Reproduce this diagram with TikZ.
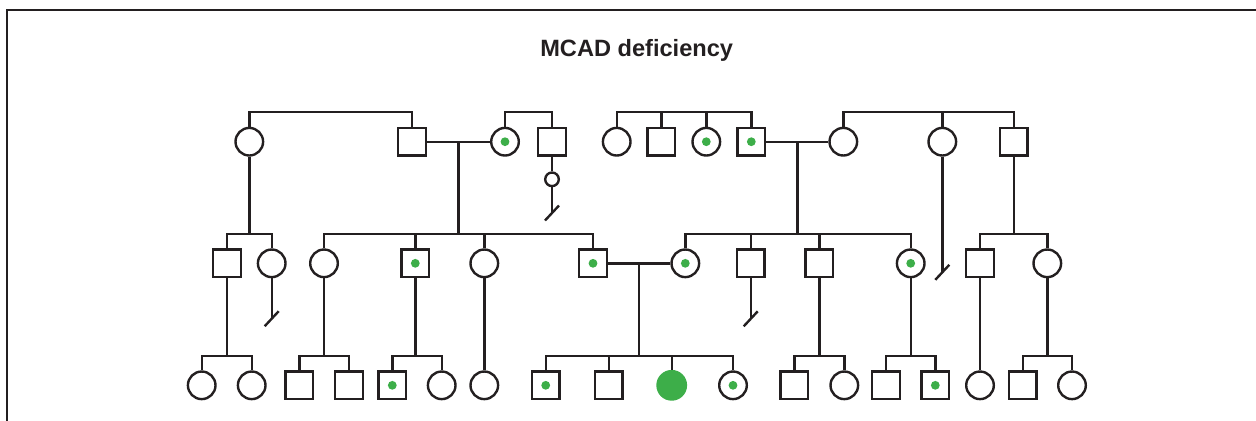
\documentclass[tikz,border=0pt]{standalone}
\usepackage{fontspec}
\setmainfont{Liberation Sans}
\usepackage{xcolor}
\usepackage{tikz}
\usetikzlibrary{calc}
\definecolor{ink}{HTML}{231F20}
\definecolor{green}{HTML}{3DAE49}
\tikzset{
  male/.style={draw=ink, rectangle, minimum size=13.8pt, inner sep=0pt, line width=1.2pt},
  female/.style={draw=ink, circle, minimum size=13.8pt, inner sep=0pt, line width=1.2pt},
  mcar/.style={male, path picture={\fill[green] (path picture bounding box.center) circle (2.2pt);}},
  fcar/.style={female, path picture={\fill[green] (path picture bounding box.center) circle (2.2pt);}},
  aff/.style={circle, fill=green, minimum size=15.4pt, inner sep=0pt},
  loss/.style={draw=ink, circle, minimum size=6.8pt, inner sep=0pt, line width=1.2pt},
  rel/.style={draw=ink, line width=1.2pt},
  frame/.style={draw=ink, line width=1pt},
  title/.style={text=ink, font=\bfseries\fontsize{11.8}{14}\selectfont}
}
\begin{document}
\begin{tikzpicture}[x=0.5pt, y=-0.5pt]
  \useasboundingbox (0,0) rectangle (1256,420);
  \draw[frame] (6.5,421) -- (6.5,10) -- (1257,10);
  \node[title, anchor=base] (title) at (636.7,56) {MCAD deficiency};

  % heights of the sibship bars
  \coordinate (g1) at (0,111.7);
  \coordinate (g2) at (0,234);
  \coordinate (g3) at (0,356);

  % generation I
  \foreach \n/\x/\s in {I1/249.3/female, I2/412/male, I3/505/fcar, I4/552/male,
      I5/616.7/female, I6/661.3/male, I7/706.3/fcar, I8/751.3/mcar,
      I9/843.3/female, I10/942.3/female, I11/1013.7/male}
    \node[\s] (\n) at (\x,141.7) {};

  % generation II
  \foreach \n/\x/\s in {II1/227/male, II2/271.7/female, II3/324/female, II4/415.3/mcar,
      II5/484.3/female, II6/593/mcar, II7/685.3/fcar, II8/750.7/male,
      II9/819.3/male, II10/910.7/fcar, II11/980/male, II12/1047.3/female}
    \node[\s] (\n) at (\x,263.3) {};

  % generation III
  \foreach \n/\x/\s in {III1/201.7/female, III2/251.7/female, III3/299.3/male, III4/349/male,
      III5/392.3/mcar, III6/441.7/female, III7/484.3/female, III8/545.7/mcar,
      III9/608.7/male, III10/671.7/aff, III11/733/fcar, III12/794.3/male,
      III13/844.3/female, III14/886/male, III15/935.3/mcar, III16/980/female,
      III17/1022.7/male, III18/1072/female}
    \node[\s] (\n) at (\x,385.3) {};

  % sibship bars, first to last
  \foreach \a/\b/\g in {I1/I2/g1, I3/I4/g1, I5/I8/g1, I9/I11/g1,
      II1/II2/g2, II3/II6/g2, II7/II10/g2, II11/II12/g2,
      III1/III2/g3, III3/III4/g3, III5/III6/g3, III8/III11/g3,
      III12/III13/g3, III14/III15/g3, III17/III18/g3}
    \draw[rel] (\a.north) |- (\g -| \b) -- (\b.north);
  \foreach \n/\g in {I6/g1, I7/g1, I10/g1, II4/g2, II5/g2, II8/g2, II9/g2, III9/g3, III10/g3}
    \draw[rel] (\n.north) -- (\n.north |- \g);

  % single parents
  \foreach \p/\g in {I1/g2, I11/g2, II1/g3, II3/g3, II4/g3, II9/g3, II10/g3, II12/g3}
    \draw[rel] (\p.south) -- (\p.south |- \g);
  \draw[rel] (II5) -- (III7);
  \draw[rel] (II11) -- (III16);

  % couples
  \foreach \a/\b/\m/\g in {I2/I3/m1/g2, I8/I9/m2/g2, II6/II7/m3/g3} {
    \draw[rel] (\a.east) -- (\b.west);
    \coordinate (\m) at ($(\a.east)!.5!(\b.west)$);
    \draw[rel] (\m) -- (\m |- \g);
  }

  % no offspring
  \node[loss] (L1) at (552,179.3) {};
  \draw[rel] (I4) -- (L1);
  \coordinate (s1) at (552,213);
  \coordinate (s2) at (271.7,318.7);
  \coordinate (s3) at (750.7,318.8);
  \coordinate (s4) at (942.3,272.3);
  \draw[rel] (L1) -- (s1);
  \draw[rel] (II2) -- (s2);
  \draw[rel] (II8) -- (s3);
  \draw[rel] (I10) -- (s4);
  \foreach \s in {s1,s2,s3,s4}
    \draw[rel] ($(\s)+(-7,7.5)$) -- ($(\s)+(7,-7.5)$);
\end{tikzpicture}
\end{document}
